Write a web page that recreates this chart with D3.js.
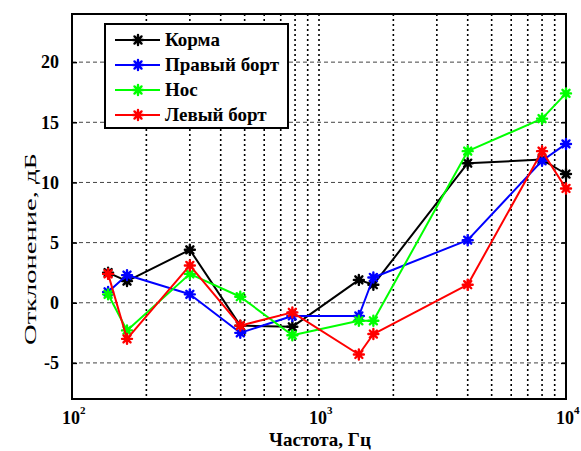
<!DOCTYPE html>
<html>
<head>
<meta charset="utf-8">
<script src="https://cdn.jsdelivr.net/npm/d3@7"></script>
<style>
  html, body { margin: 0; padding: 0; background: #fff; }
  svg { display: block; }
</style>
</head>
<body>
<script>
// Frequencies of the measurement points, Hz
const freqs = [140, 167, 300, 480, 780, 1450, 1660, 4000, 8000, 10000];

// Deviation per position, dB
const korma      = [2.5, 1.8, 4.4, -1.9, -2.0, 1.9, 1.5, 11.6, 11.9, 10.7];
const pravyBort  = [0.9, 2.3, 0.7, -2.5, -1.1, -1.1, 2.1, 5.2, 11.8, 13.2];
const nos        = [0.7, -2.3, 2.4, 0.5, -2.7, -1.5, -1.5, 12.6, 15.3, 17.4];
const levyBort   = [2.4, -3.0, 3.1, -1.9, -0.8, -4.3, -2.6, 1.5, 12.6, 9.5];

const seriesNames  = ["Корма", "Правый борт", "Нос", "Левый борт"];
const seriesValues = [korma, pravyBort, nos, levyBort];
const seriesColors = ["#000000", "#0000ff", "#00ff00", "#ff0000"];

const yTicks = [-5, 0, 5, 10, 15, 20];
const xMajor = [100, 1000, 10000];
const xMajorExp = ["2", "3", "4"];

const FONT = "Liberation Serif";

const W = 581, H = 451;
const m = { left: 72, right: 15, top: 14, bottom: 52 };
const pw = W - m.left - m.right, ph = H - m.top - m.bottom;

const svg = d3.select("body").append("svg")
  .attr("width", W).attr("height", H);

const x = d3.scaleLog().domain([100, 10000]).range([m.left, m.left + pw]);
const y = d3.scaleLinear().domain([-8, 24]).range([m.top + ph, m.top]);

// minor decade positions for the dotted grid
const xGrid = [];
for (let d = 100; d < 10000; d *= 10) {
  for (let k = 2; k <= 9; k++) xGrid.push(d * k);
}
xGrid.push(1000);

const g = svg.append("g");

// horizontal dashed grid
g.selectAll(".hgrid").data(yTicks).enter().append("line")
  .attr("x1", m.left).attr("x2", m.left + pw)
  .attr("y1", d => y(d)).attr("y2", d => y(d))
  .attr("stroke", "#444").attr("stroke-width", 1)
  .attr("stroke-dasharray", "4,3");

// vertical dotted grid
g.selectAll(".vgrid").data(xGrid).enter().append("line")
  .attr("x1", d => x(d)).attr("x2", d => x(d))
  .attr("y1", m.top).attr("y2", m.top + ph)
  .attr("stroke", "#000").attr("stroke-width", 1.6)
  .attr("stroke-dasharray", "2,3");

// y axis ticks (inside, both sides) and labels
const yAxisL = d3.axisLeft(y).tickValues(yTicks).tickSizeInner(-5).tickSizeOuter(0).tickPadding(13);
const gy = svg.append("g").attr("transform", `translate(${m.left},0)`).call(yAxisL);
gy.select(".domain").remove();
gy.attr("font-family", FONT);
gy.selectAll(".tick line").attr("stroke", "#000").attr("stroke-width", 1.5);
gy.selectAll(".tick text")
  .attr("font-family", FONT)
  .attr("font-size", 18).attr("font-weight", "bold").attr("fill", "#000")
  .text(d => d < 0 ? "-" + Math.abs(d) : d);

const yAxisR = d3.axisRight(y).tickValues(yTicks).tickSizeInner(-5).tickSizeOuter(0).tickFormat("");
const gyr = svg.append("g").attr("transform", `translate(${m.left + pw},0)`).call(yAxisR);
gyr.select(".domain").remove();
gyr.selectAll(".tick line").attr("stroke", "#000").attr("stroke-width", 1.5);

// x axis major labels as 10 with superscript exponent
const xl = svg.append("g");
xMajor.forEach((v, i) => {
  const t = xl.append("text")
    .attr("x", x(v) - 10).attr("y", m.top + ph + 25)
    .attr("font-family", FONT)
    .attr("font-size", 18).attr("font-weight", "bold").attr("fill", "#000")
    .attr("text-anchor", "start");
  t.append("tspan").text("10");
  t.append("tspan").attr("font-size", 11).attr("dy", -10).text(xMajorExp[i]);
});

// plot frame
svg.append("rect")
  .attr("x", m.left).attr("y", m.top).attr("width", pw).attr("height", ph)
  .attr("fill", "none").attr("stroke", "#000").attr("stroke-width", 2);

// star marker path
function starPath(r) {
  let p = "";
  for (let k = 0; k < 4; k++) {
    const a = k * Math.PI / 4;
    const dx = r * Math.cos(a), dy = r * Math.sin(a);
    p += `M${-dx},${-dy}L${dx},${dy}`;
  }
  return p;
}

const line = d3.line().x(d => x(d[0])).y(d => y(d[1]));

seriesValues.forEach((vals, i) => {
  const pts = freqs.map((f, j) => [f, vals[j]]);
  const sg = svg.append("g");
  sg.append("path").datum(pts)
    .attr("d", line).attr("fill", "none")
    .attr("stroke", seriesColors[i]).attr("stroke-width", 2)
    .attr("stroke-linejoin", "round");
  sg.selectAll("path.mk").data(pts).enter().append("path")
    .attr("class", "mk")
    .attr("transform", d => `translate(${x(d[0])},${y(d[1])})`)
    .attr("d", starPath(5))
    .attr("stroke", seriesColors[i]).attr("stroke-width", 2.4)
    .attr("stroke-linecap", "round");
});

// legend
const lg = svg.append("g");
lg.append("rect").attr("x", 105).attr("y", 24).attr("width", 183).attr("height", 104)
  .attr("fill", "#fff").attr("stroke", "#000").attr("stroke-width", 2);
seriesNames.forEach((name, i) => {
  const yy = 40 + i * 25;
  lg.append("line").attr("x1", 115).attr("x2", 160).attr("y1", yy).attr("y2", yy)
    .attr("stroke", seriesColors[i]).attr("stroke-width", 2);
  lg.append("path").attr("transform", `translate(138,${yy})`).attr("d", starPath(5))
    .attr("stroke", seriesColors[i]).attr("stroke-width", 2.4).attr("stroke-linecap", "round");
  lg.append("text").attr("x", 165).attr("y", yy + 6)
    .attr("font-family", FONT)
    .attr("font-size", 19).attr("font-weight", "bold").attr("fill", "#000")
    .text(name);
});

// axis titles
svg.append("text")
  .attr("x", 320).attr("y", H - 5)
  .attr("font-family", FONT)
  .attr("text-anchor", "middle").attr("font-size", 19).attr("font-weight", "bold")
  .text("Частота, Гц");

svg.append("text")
  .attr("transform", `translate(36,249) rotate(-90)`)
  .attr("font-family", FONT)
  .attr("text-anchor", "middle").attr("font-size", 16)
  .attr("textLength", 192).attr("lengthAdjust", "spacingAndGlyphs")
  .text("Отклонение, дБ");
</script>
</body>
</html>
